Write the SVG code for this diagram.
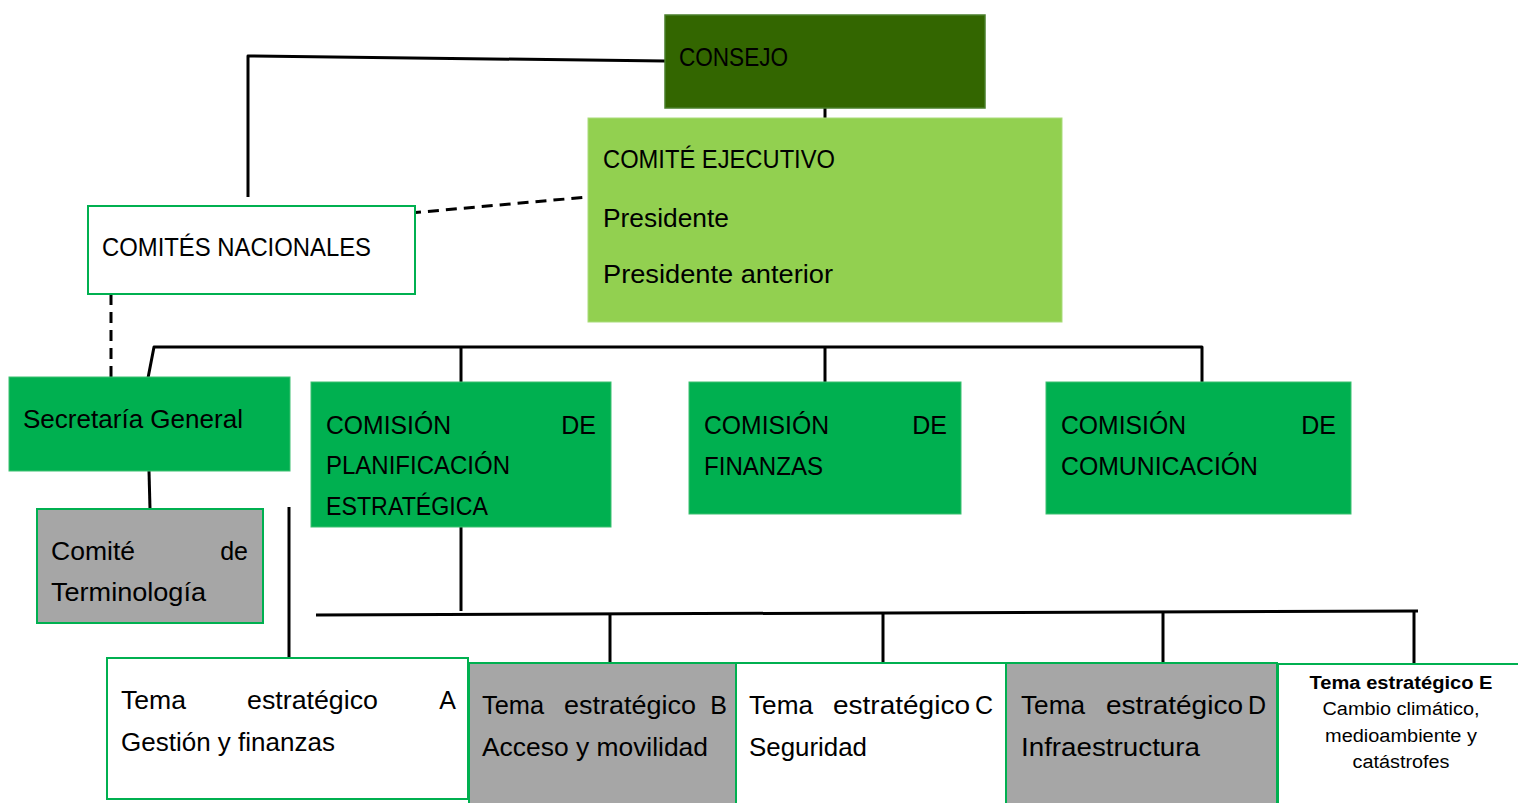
<svg xmlns="http://www.w3.org/2000/svg" width="1518" height="803" viewBox="0 0 1518 803">
<style>
.t{font-family:"Liberation Sans",Arial,sans-serif;font-size:25px;fill:#000}
.r{text-anchor:end}
.e{font-family:"Liberation Sans",Arial,sans-serif;font-size:18px;fill:#000;text-anchor:middle}
.b{stroke:#00b050;stroke-width:2}
.ln{fill:none;stroke:#000;stroke-width:3;stroke-linejoin:round}
.ds{fill:none;stroke:#000;stroke-width:3;stroke-dasharray:11 7}
</style>
<rect width="1518" height="803" fill="#fff"/>
<g id="connectors">
<polyline class="ln" points="665,61 248,56 248,197"/>
<line class="ln" x1="825" y1="108" x2="825" y2="118"/>
<line class="ds" x1="410" y1="213" x2="588" y2="197"/>
<line class="ds" x1="111" y1="294" x2="111" y2="377"/>
<polyline class="ln" points="148,378 154,347 1202,347 1202,382"/>
<line class="ln" x1="461" y1="347" x2="461" y2="382"/>
<line class="ln" x1="825" y1="347" x2="825" y2="382"/>
<line class="ln" x1="149" y1="471" x2="150" y2="509"/>
<line class="ln" x1="289" y1="507" x2="289" y2="663"/>
<line class="ln" x1="461" y1="518" x2="461" y2="611"/>
<line class="ln" x1="316" y1="615" x2="1418" y2="611"/>
<line class="ln" x1="610" y1="614" x2="610" y2="663"/>
<line class="ln" x1="883" y1="613" x2="883" y2="663"/>
<line class="ln" x1="1163" y1="612" x2="1163" y2="663"/>
<line class="ln" x1="1414" y1="612" x2="1414" y2="667"/>
</g>
<g id="consejo">
<rect x="665" y="15" width="320" height="93" fill="#336600" stroke="#4a7f2a" stroke-width="1.5"/>
<text class="t" x="679" y="66" textLength="109" lengthAdjust="spacingAndGlyphs">CONSEJO</text>
</g>
<g id="comite-ejecutivo">
<rect x="588" y="118" width="474" height="204" fill="#92d050" stroke="#a9dc7a" stroke-width="1"/>
<text class="t" x="603" y="168" textLength="232" lengthAdjust="spacingAndGlyphs">COMITÉ EJECUTIVO</text>
<text class="t" x="603" y="227" textLength="126" lengthAdjust="spacingAndGlyphs">Presidente</text>
<text class="t" x="603" y="283" textLength="230" lengthAdjust="spacingAndGlyphs">Presidente anterior</text>
</g>
<g id="comites-nacionales">
<rect class="b" x="88" y="206" width="327" height="88" fill="#fff"/>
<text class="t" x="102" y="256" textLength="269" lengthAdjust="spacingAndGlyphs">COMITÉS NACIONALES</text>
</g>
<g id="secretaria">
<rect x="9" y="377" width="281" height="94" fill="#00b050" stroke="#3dc070" stroke-width="1"/>
<text class="t" x="23" y="428" textLength="220" lengthAdjust="spacingAndGlyphs">Secretaría General</text>
</g>
<g id="terminologia">
<rect class="b" x="37" y="509" width="226" height="114" fill="#a6a6a6"/>
<text class="t" x="51" y="560" textLength="84" lengthAdjust="spacingAndGlyphs">Comité</text>
<text class="t r" x="248" y="560">de</text>
<text class="t" x="51" y="601" textLength="155" lengthAdjust="spacingAndGlyphs">Terminología</text>
</g>
<g id="planificacion">
<rect x="311" y="382" width="300" height="145" fill="#00b050" stroke="#3dc070" stroke-width="1"/>
<text class="t" x="326" y="434" textLength="125" lengthAdjust="spacingAndGlyphs">COMISIÓN</text>
<text class="t r" x="596" y="434">DE</text>
<text class="t" x="326" y="474" textLength="184" lengthAdjust="spacingAndGlyphs">PLANIFICACIÓN</text>
<text class="t" x="326" y="515" textLength="162" lengthAdjust="spacingAndGlyphs">ESTRATÉGICA</text>
</g>
<g id="finanzas">
<rect x="689" y="382" width="272" height="132" fill="#00b050" stroke="#3dc070" stroke-width="1"/>
<text class="t" x="704" y="434" textLength="125" lengthAdjust="spacingAndGlyphs">COMISIÓN</text>
<text class="t r" x="947" y="434">DE</text>
<text class="t" x="704" y="475" textLength="119" lengthAdjust="spacingAndGlyphs">FINANZAS</text>
</g>
<g id="comunicacion">
<rect x="1046" y="382" width="305" height="132" fill="#00b050" stroke="#3dc070" stroke-width="1"/>
<text class="t" x="1061" y="434" textLength="125" lengthAdjust="spacingAndGlyphs">COMISIÓN</text>
<text class="t r" x="1336" y="434">DE</text>
<text class="t" x="1061" y="475" textLength="197" lengthAdjust="spacingAndGlyphs">COMUNICACIÓN</text>
</g>
<g id="tema-a">
<rect class="b" x="107" y="658" width="361" height="141" fill="#fff"/>
<text class="t" x="121" y="709" textLength="65" lengthAdjust="spacingAndGlyphs">Tema</text>
<text class="t" x="247" y="709" textLength="131" lengthAdjust="spacingAndGlyphs">estratégico</text>
<text class="t r" x="456" y="709">A</text>
<text class="t" x="121" y="751" textLength="214" lengthAdjust="spacingAndGlyphs">Gestión y finanzas</text>
</g>
<g id="tema-b">
<rect class="b" x="469" y="663" width="267" height="150" fill="#a6a6a6"/>
<text class="t" x="482" y="714" textLength="62" lengthAdjust="spacingAndGlyphs">Tema</text>
<text class="t" x="564" y="714" textLength="132" lengthAdjust="spacingAndGlyphs">estratégico</text>
<text class="t r" x="727" y="714">B</text>
<text class="t" x="482" y="756" textLength="226" lengthAdjust="spacingAndGlyphs">Acceso y movilidad</text>
</g>
<g id="tema-c">
<rect class="b" x="736" y="663" width="270" height="150" fill="#fff"/>
<text class="t" x="749" y="714" textLength="64" lengthAdjust="spacingAndGlyphs">Tema</text>
<text class="t" x="833" y="714" textLength="137" lengthAdjust="spacingAndGlyphs">estratégico</text>
<text class="t r" x="993" y="714">C</text>
<text class="t" x="749" y="756" textLength="118" lengthAdjust="spacingAndGlyphs">Seguridad</text>
</g>
<g id="tema-d">
<rect class="b" x="1006" y="663" width="271" height="150" fill="#a6a6a6"/>
<text class="t" x="1021" y="714" textLength="64" lengthAdjust="spacingAndGlyphs">Tema</text>
<text class="t" x="1106" y="714" textLength="137" lengthAdjust="spacingAndGlyphs">estratégico</text>
<text class="t r" x="1266" y="714">D</text>
<text class="t" x="1021" y="756" textLength="179" lengthAdjust="spacingAndGlyphs">Infraestructura</text>
</g>
<g id="tema-e">
<rect class="b" x="1278" y="664" width="260" height="150" fill="#fff"/>
<text class="e" x="1401" y="689" font-weight="bold" textLength="183" lengthAdjust="spacingAndGlyphs">Tema estratégico E</text>
<text class="e" x="1401" y="715" textLength="157" lengthAdjust="spacingAndGlyphs">Cambio climático,</text>
<text class="e" x="1401" y="742" textLength="152" lengthAdjust="spacingAndGlyphs">medioambiente y</text>
<text class="e" x="1401" y="768" textLength="97" lengthAdjust="spacingAndGlyphs">catástrofes</text>
</g>
</svg>
